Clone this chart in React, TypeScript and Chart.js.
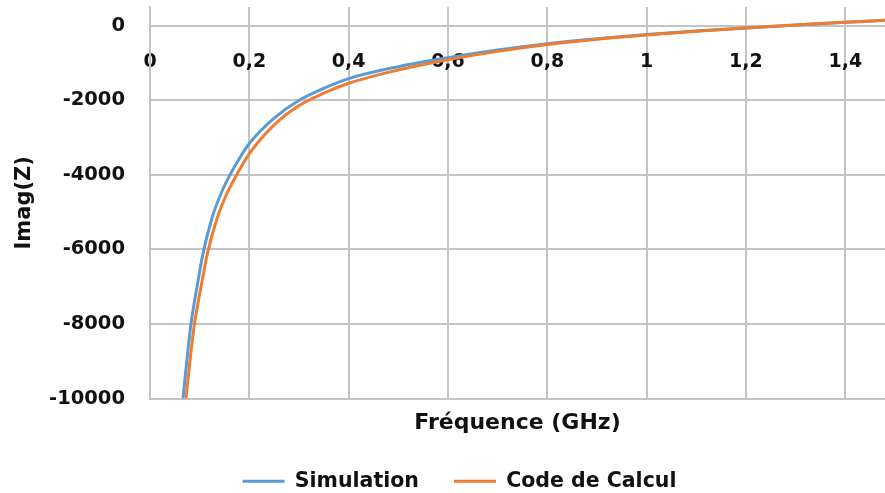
import React, { useEffect, useRef } from "react";
import { Chart, registerables } from "chart.js";

Chart.register(...registerables);

// Simulation (blue) — frequency (GHz) and Imag(Z)
const simFreq = [0.0664, 0.075, 0.0825, 0.095, 0.1066, 0.125, 0.145, 0.161, 0.18, 0.2, 0.25, 0.298, 0.35, 0.4, 0.5, 0.6, 0.7, 0.8, 0.9, 1.0, 1.1, 1.2, 1.3, 1.4, 1.48];
const simImag = [-10000, -8880, -8000, -6980, -6120, -5150, -4440, -4000, -3560, -3160, -2480, -2020, -1680, -1420, -1100, -860, -655, -485, -350, -240, -145, -60, 18, 90, 144];

// Code de Calcul (orange)
const calcFreq = [0.0724, 0.0814, 0.0895, 0.1031, 0.1155, 0.1355, 0.157, 0.1745, 0.2, 0.25, 0.298, 0.35, 0.4, 0.5, 0.6, 0.7, 0.8, 0.9, 1.0, 1.1, 1.2, 1.3, 1.4, 1.48];
const calcImag = [-10000, -8880, -8000, -6980, -6120, -5150, -4440, -4000, -3430, -2660, -2160, -1810, -1545, -1190, -915, -690, -505, -362, -248, -150, -63, 18, 90, 144];

const seriesNames = ["Simulation", "Code de Calcul"];
const seriesColors = ["#5B9BD5", "#ED7D31"];

const xTickValues = [0, 0.2, 0.4, 0.6, 0.8, 1, 1.2, 1.4];
const yTickValues = [-10000, -8000, -6000, -4000, -2000, 0];
const xMin = 0;
const xMax = 1.48;
const yMin = -10000;
const yMax = 500;

const xTitle = "Fréquence (GHz)";
const yTitle = "Imag(Z)";

const FONT = "'DejaVu Sans', 'Open Sans', sans-serif";
const TEXT = "#111111";
const GRID = "#c4c4c4";

export default function App() {
  const ref = useRef<HTMLCanvasElement | null>(null);

  useEffect(() => {
    if (!ref.current) return;
    const toXY = (xs: number[], ys: number[]) => xs.map((x, i) => ({ x, y: ys[i] }));
    const chart = new Chart(ref.current, {
      type: "line",
      data: {
        datasets: [
          {
            label: seriesNames[0],
            data: toXY(simFreq, simImag),
            borderColor: seriesColors[0],
            backgroundColor: seriesColors[0],
            borderWidth: 3,
            pointRadius: 0,
            cubicInterpolationMode: "monotone",
            order: 1,
          },
          {
            label: seriesNames[1],
            data: toXY(calcFreq, calcImag),
            borderColor: seriesColors[1],
            backgroundColor: seriesColors[1],
            borderWidth: 3,
            pointRadius: 0,
            cubicInterpolationMode: "monotone",
            order: 0,
          },
        ],
      },
      options: {
        animation: false,
        responsive: false,
        layout: { padding: { top: 7, left: 34, right: 0, bottom: 0 } },
        scales: {
          x: {
            type: "linear",
            position: { y: 0 } as any,
            min: xMin,
            max: xMax,
            grid: { color: GRID, lineWidth: 2, drawTicks: false },
            border: { color: GRID, width: 2 },
            afterBuildTicks: (s: any) => {
              s.ticks = xTickValues.map((value) => ({ value }));
            },
            ticks: {
              padding: 25,
              color: TEXT,
              font: { family: FONT, size: 19, weight: "bold" },
              maxRotation: 0,
              autoSkip: false,
              callback: (v: any) => String(Number(v)).replace(".", ","),
            },
            afterFit: (s: any) => {
              s.paddingLeft = 0;
              s.paddingRight = 0;
            },
          },
          y: {
            type: "linear",
            min: yMin,
            max: yMax,
            grid: { color: GRID, lineWidth: 2, drawTicks: false },
            border: { color: GRID, width: 2 },
            afterBuildTicks: (s: any) => {
              s.ticks = yTickValues.map((value) => ({ value }));
            },
            ticks: {
              padding: 25,
              color: TEXT,
              autoSkip: false,
              font: { family: FONT, size: 19.5, weight: "bold" },
              callback: (v: any) => String(v),
            },
            title: {
              display: true,
              text: yTitle,
              color: TEXT,
              font: { family: FONT, size: 21, weight: "bold" },
              padding: { top: -22, bottom: 0 },
            },
            afterFit: (s: any) => {
              s.width = 116;
              s.paddingTop = 0;
              s.paddingBottom = 0;
            },
          },
        },
        plugins: {
          tooltip: { enabled: false },
          title: {
            display: true,
            position: "bottom",
            text: xTitle,
            color: TEXT,
            fullSize: false,
            weight: 500,
            font: { family: FONT, size: 22, weight: "bold" },
            padding: { top: 11, bottom: 0 },
          },
          legend: {
            display: true,
            position: "bottom",
            weight: 3000,
            maxHeight: 57,
            labels: {
              boxWidth: 42,
              boxHeight: 0,
              padding: 35,
              color: TEXT,
              font: { family: FONT, size: 20.5, weight: "bold" },
              sort: (a: any, b: any) => a.datasetIndex - b.datasetIndex,
            },
          },
        },
      },
    });
    return () => chart.destroy();
  }, []);

  return (
    <div style={{ position: "absolute", left: 0, top: 0, width: 885, height: 493, background: "#fff" }}>
      <canvas ref={ref} width={885} height={493} />
    </div>
  );
}
